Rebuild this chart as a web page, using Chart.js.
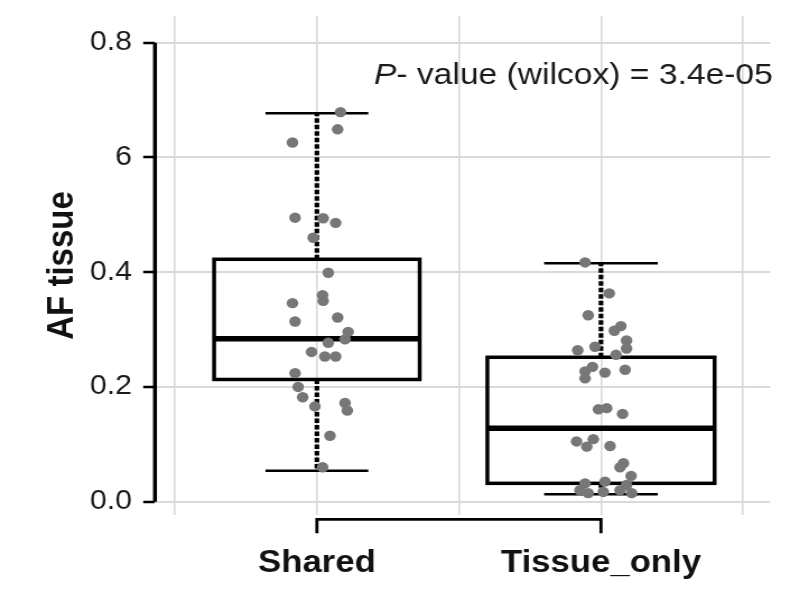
<!DOCTYPE html>
<html>
<head>
<meta charset="utf-8">
<script src="https://cdn.jsdelivr.net/npm/chart.js@4.4.1/dist/chart.umd.min.js"></script>
<style>
  html, body { margin: 0; padding: 0; background: #fff; overflow: hidden; }
  #chart { display: block; transform: scaleX(1.1205); transform-origin: 0 0; }
</style>
</head>
<body>
<canvas id="chart" width="722" height="607"></canvas>
<script>
const categories = ["Shared", "Tissue_only"];
const yTickValues = [0, 0.2, 0.4, 0.6, 0.8];
const yTickLabels = ["0.0", "0.2", "0.4", "6", "0.8"];
const xGridValues = [0.5, 1, 1.5, 2, 2.5];

// box summary per category
const boxMin = [0.054, 0.013];
const boxQ1 = [0.213, 0.032];
const boxMedian = [0.284, 0.128];
const boxQ3 = [0.4225, 0.2517];
const boxMax = [0.677, 0.4155];

// jittered points (x = category position + jitter)
const sharedX = [1.083, 1.073, 0.914, 0.923, 1.022, 1.066, 0.987, 1.040, 1.020, 1.022, 0.914, 0.923, 1.073, 1.110,
  1.099, 1.040, 0.981, 1.028, 1.066, 0.923, 0.934, 0.950, 0.993, 1.099, 1.107, 1.046, 1.020];
const sharedY = [0.679, 0.649, 0.626, 0.495, 0.494, 0.486, 0.460, 0.399, 0.360, 0.350, 0.346, 0.314, 0.321, 0.296,
  0.283, 0.277, 0.261, 0.253, 0.253, 0.224, 0.200, 0.182, 0.166, 0.172, 0.159, 0.115, 0.060];
const tissueX = [1.944, 2.029, 1.955, 2.070, 2.047, 2.090, 2.090, 1.979, 1.918, 2.053, 1.970, 1.944, 1.944, 2.014,
  2.085, 1.991, 2.020, 2.076, 1.914, 1.950, 1.973, 2.032, 2.079, 2.067, 2.106, 1.944, 1.955, 2.014, 2.008, 2.067,
  2.108, 2.090, 1.926];
const tissueY = [0.417, 0.363, 0.325, 0.306, 0.298, 0.281, 0.267, 0.270, 0.264, 0.256, 0.235, 0.227, 0.215, 0.225,
  0.230, 0.161, 0.163, 0.153, 0.105, 0.096, 0.109, 0.097, 0.067, 0.060, 0.045, 0.032, 0.015, 0.035, 0.017, 0.020,
  0.015, 0.029, 0.020];

const groupY = [sharedY, tissueY];
const fontFamily = "'Liberation Sans', Arial, Helvetica, sans-serif";

const boxPlugin = {
  id: "boxes",
  beforeDatasetsDraw(chart) {
    const { ctx, chartArea, scales: { x, y } } = chart;
    const unit = x.getPixelForValue(2) - x.getPixelForValue(1);
    const nMax = Math.max(...groupY.map(g => g.length));
    ctx.save();
    ctx.strokeStyle = "#000";

    categories.forEach((c, i) => {
      const cx = x.getPixelForValue(i + 1);
      const half = 0.4 * Math.sqrt(groupY[i].length / nMax) * unit;
      const yq1 = y.getPixelForValue(boxQ1[i]);
      const yq3 = y.getPixelForValue(boxQ3[i]);
      const ymed = y.getPixelForValue(boxMedian[i]);
      const ymin = y.getPixelForValue(boxMin[i]);
      const ymax = y.getPixelForValue(boxMax[i]);

      // whiskers (dotted)
      ctx.setLineDash([4.5, 2]);
      ctx.lineWidth = 4.2;
      ctx.beginPath();
      ctx.moveTo(cx, yq3); ctx.lineTo(cx, ymax);
      ctx.moveTo(cx, yq1); ctx.lineTo(cx, ymin);
      ctx.stroke();
      ctx.setLineDash([]);

      // staples
      ctx.lineWidth = 2.5;
      ctx.beginPath();
      ctx.moveTo(cx - half / 2, ymax); ctx.lineTo(cx + half / 2, ymax);
      ctx.moveTo(cx - half / 2, ymin); ctx.lineTo(cx + half / 2, ymin);
      ctx.stroke();

      // box
      ctx.lineWidth = 3.5;
      ctx.strokeRect(cx - half, yq3, half * 2, yq1 - yq3);

      // median
      ctx.lineWidth = 5.5;
      ctx.beginPath();
      ctx.moveTo(cx - half, ymed); ctx.lineTo(cx + half, ymed);
      ctx.stroke();
    });

    // y axis line over the tick range
    ctx.lineWidth = 3.5;
    ctx.beginPath();
    ctx.moveTo(chartArea.left, y.getPixelForValue(yTickValues[0]));
    ctx.lineTo(chartArea.left, y.getPixelForValue(yTickValues[yTickValues.length - 1]));
    ctx.stroke();

    // x axis bracket between the categories
    const by = chartArea.bottom + 4.3;
    const x1 = x.getPixelForValue(1), x2 = x.getPixelForValue(categories.length);
    ctx.lineWidth = 2.8;
    ctx.beginPath();
    ctx.moveTo(x1, by + 14); ctx.lineTo(x1, by); ctx.lineTo(x2, by); ctx.lineTo(x2, by + 14);
    ctx.stroke();
    ctx.restore();
  },
  afterDraw(chart) {
    const { ctx, chartArea } = chart;
    ctx.save();
    ctx.fillStyle = "#1a1a1a";
    ctx.textBaseline = "alphabetic";
    const rest = "- value (wilcox) = 3.4e-05";
    ctx.font = "30px " + fontFamily;
    const wRest = ctx.measureText(rest).width;
    const right = chartArea.right + 2.5;
    const base = chartArea.top + 68;
    ctx.fillText(rest, right - wRest, base);
    ctx.font = "italic 30px " + fontFamily;
    const wP = ctx.measureText("P").width;
    ctx.fillText("P", right - wRest - wP, base);
    ctx.restore();
  }
};

const ctx = document.getElementById("chart").getContext("2d");
const chart = new Chart(ctx, {
  type: "scatter",
  data: {
    datasets: [
      {
        label: categories[0],
        data: sharedX.map((x, i) => ({ x, y: sharedY[i] })),
        backgroundColor: "#777777",
        borderWidth: 0,
        pointRadius: 5.2,
      },
      {
        label: categories[1],
        data: tissueX.map((x, i) => ({ x, y: tissueY[i] })),
        backgroundColor: "#777777",
        borderWidth: 0,
        pointRadius: 5.2,
      },
    ],
  },
  options: {
    responsive: false,
    animation: false,
    layout: { padding: { top: 16, right: 34.8, left: 0, bottom: 0 } },
    plugins: {
      legend: { display: false },
      tooltip: { enabled: false },
    },
    scales: {
      x: {
        type: "linear",
        min: 0.43,
        max: 2.595,
        afterBuildTicks: s => { s.ticks = xGridValues.map(v => ({ value: v })); },
        afterFit: s => { s.height = 92; s.paddingLeft = 0; s.paddingRight = 0; },
        grid: { color: "#d9d9d9", lineWidth: 1.6, drawTicks: false },
        border: { display: false },
        ticks: {
          autoSkip: false,
          maxRotation: 0,
          padding: 30,
          color: "#111",
          font: { family: fontFamily, size: 31, weight: "bold" },
          callback: v => Number.isInteger(v) ? categories[v - 1] : "",
        },
      },
      y: {
        min: -0.0232,
        max: 0.8465,
        afterBuildTicks: s => { s.ticks = yTickValues.map(v => ({ value: v })); },
        afterFit: s => { s.width = 138.3; s.paddingTop = 0; s.paddingBottom = 0; },
        grid: { color: "#d9d9d9", lineWidth: 2, tickColor: "#000", tickLength: 10.5, tickWidth: 2.5 },
        border: { display: false },
        ticks: {
          padding: 10,
          color: "#1a1a1a",
          font: { family: fontFamily, size: 27 },
          callback: (v, i) => yTickLabels[i],
        },
        title: {
          display: true,
          text: "AF tissue",
          color: "#111",
          font: { family: fontFamily, size: 33, weight: "bold" },
          padding: { top: 36, bottom: 0 },
        },
      },
    },
  },
  plugins: [boxPlugin],
});
</script>
</body>
</html>
